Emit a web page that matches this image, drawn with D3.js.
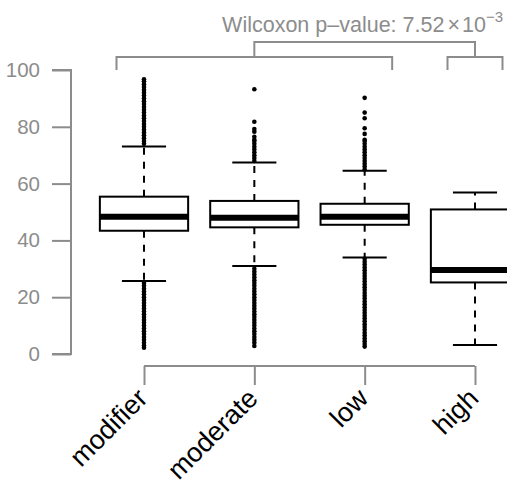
<!DOCTYPE html>
<html>
<head>
<meta charset="utf-8">
<script src="https://cdn.jsdelivr.net/npm/d3@7"></script>
<style>
  body { margin: 0; background: #fff; }
  text { font-family: "Liberation Sans", Arial, sans-serif; }
</style>
</head>
<body>
<svg id="chart"></svg>
<script>
var width = 507;
var height = 485;

var categories = ["modifier", "moderate", "low", "high"];
// five-number summaries
var lowerWhisker = [25.7, 31.0, 34.0, 3.2];
var q1 = [43.4, 44.6, 45.5, 25.2];
var medians = [48.3, 48.0, 48.3, 29.6];
var q3 = [55.4, 53.9, 52.9, 50.9];
var upperWhisker = [73.1, 67.4, 64.5, 56.9];

// outliers per category
var outliersModifier = [2.2, 3, 4, 5, 6, 7, 8, 9, 10, 11, 12, 13, 14, 15, 16, 17, 18, 19, 20, 21, 22, 23, 24, 25,
    74, 75, 76, 77, 78, 79, 80, 81, 82, 83, 84, 85, 86, 87, 88, 89, 90, 91, 92, 93, 94, 95, 96, 96.7];
var outliersModerate = [2.8, 4, 5, 6, 7, 8, 9, 10, 11, 12, 13, 14, 15, 16, 17, 18, 19, 20, 21, 22, 23, 24, 25, 26, 27, 28, 29, 30,
    68, 69, 70, 71, 72, 73, 74, 75, 75.4, 76.5, 78.3, 79.2, 81.8, 93.2];
var outliersLow = [2.6, 3.5, 4.5, 5.5, 6.5, 7.5, 8.5, 9.5, 10.5, 11.5, 12.5, 13.5, 14.5, 15.5, 16.5, 17.5, 18.5, 19.5, 20.5,
    21.5, 22.5, 23.5, 24.5, 25.5, 26.5, 27.5, 28.5, 29.5, 30.5, 31.5, 32.5, 33.5,
    65, 66, 67, 68, 69, 70, 71, 72, 73, 74, 75, 75.4, 77.5, 79.5, 83.0, 85.0, 90.2];
var outliersHigh = [];
var outliers = [outliersModifier, outliersModerate, outliersLow, outliersHigh];

var yTicks = [0, 20, 40, 60, 80, 100];
var pValueText = "Wilcoxon p\u2013value: 7.52";

var grey = "#8c8c8c";

var svg = d3.select("#chart").attr("width", width).attr("height", height);

var y = d3.scaleLinear().domain([0, 100]).range([354, 70]);
var x = d3.scalePoint().domain(categories).range([144, 475]);
var step = x.step();
var boxHalf = step * 0.4;
var capHalf = boxHalf / 2;

var boxes = categories.map(function (c, i) {
    return {
        name: c, lo: lowerWhisker[i], q1: q1[i], med: medians[i],
        q3: q3[i], hi: upperWhisker[i], out: outliers[i]
    };
});

// y axis
var yAxis = svg.append("g").attr("transform", "translate(71,0)")
    .call(d3.axisLeft(y).tickValues(yTicks).tickSize(19).tickPadding(12));
yAxis.select(".domain").attr("d", "M-19," + y(100) + "H0V" + y(0) + "H-19");
yAxis.selectAll("path, line").attr("stroke", grey).attr("stroke-width", 2);
yAxis.selectAll("text").attr("fill", grey).attr("font-size", 20.5)
    .attr("font-family", "Liberation Sans, Arial, sans-serif");

// x axis
var xAxis = svg.append("g").attr("transform", "translate(0,366)")
    .call(d3.axisBottom(x).tickSize(19).tickSizeOuter(0).tickFormat(""));
xAxis.select(".domain").attr("d", "M" + x("modifier") + ",0H" + x("high"));
xAxis.selectAll("path, line").attr("stroke", grey).attr("stroke-width", 2);

svg.append("g").selectAll("text").data(categories).enter().append("text")
    .attr("transform", function (d) { return "translate(" + (x(d) + 5) + ",400) rotate(-45)"; })
    .attr("text-anchor", "end")
    .attr("font-size", 27)
    .attr("fill", "#000")
    .text(function (d) { return d; });

// boxplots
var g = svg.append("g").selectAll("g").data(boxes).enter().append("g")
    .attr("transform", function (d) { return "translate(" + x(d.name) + ",0)"; });

g.append("line").attr("y1", function (d) { return y(d.q3); }).attr("y2", function (d) { return y(d.hi); })
    .attr("stroke", "#000").attr("stroke-width", 2).attr("stroke-dasharray", "7,7");
g.append("line").attr("y1", function (d) { return y(d.q1); }).attr("y2", function (d) { return y(d.lo); })
    .attr("stroke", "#000").attr("stroke-width", 2).attr("stroke-dasharray", "7,7");

g.selectAll("circle").data(function (d) { return d.out; }).enter().append("circle")
    .attr("cy", function (v) { return y(v); })
    .attr("r", 2.3)
    .attr("fill", "#000");

g.append("line").attr("x1", -capHalf).attr("x2", capHalf)
    .attr("y1", function (d) { return y(d.hi); }).attr("y2", function (d) { return y(d.hi); })
    .attr("stroke", "#000").attr("stroke-width", 2);
g.append("line").attr("x1", -capHalf).attr("x2", capHalf)
    .attr("y1", function (d) { return y(d.lo); }).attr("y2", function (d) { return y(d.lo); })
    .attr("stroke", "#000").attr("stroke-width", 2);

g.append("rect").attr("x", -boxHalf).attr("width", boxHalf * 2)
    .attr("y", function (d) { return y(d.q3); })
    .attr("height", function (d) { return y(d.q1) - y(d.q3); })
    .attr("fill", "#fff").attr("stroke", "#000").attr("stroke-width", 2);

g.append("line").attr("x1", -boxHalf).attr("x2", boxHalf)
    .attr("y1", function (d) { return y(d.med); }).attr("y2", function (d) { return y(d.med); })
    .attr("stroke", "#000").attr("stroke-width", 6);

// comparison brackets
var legW = 27.5;
var leftA = x("modifier") - legW, leftB = x("low") + legW;
var rightA = x("high") - legW, rightB = x("high") + legW;
var brackets = [
    [leftA, leftB, 57, 70],
    [rightA, rightB, 57, 70],
    [(leftA + leftB) / 2, (rightA + rightB) / 2, 42, 57]
];
svg.append("g").selectAll("path").data(brackets).enter().append("path")
    .attr("d", function (b) { return "M" + b[0] + "," + b[3] + "V" + b[2] + "H" + b[1] + "V" + b[3]; })
    .attr("fill", "none").attr("stroke", grey).attr("stroke-width", 2);

var t = svg.append("text").attr("x", 503).attr("y", 31.5).attr("text-anchor", "end")
    .attr("font-size", 21.5).attr("fill", grey);
t.append("tspan").text(pValueText);
t.append("tspan").attr("dx", 3).text("\u00d7");
t.append("tspan").attr("dx", 2).text("10");
t.append("tspan").attr("dy", -10).attr("font-size", 15).text("\u22123");
</script>
</body>
</html>
